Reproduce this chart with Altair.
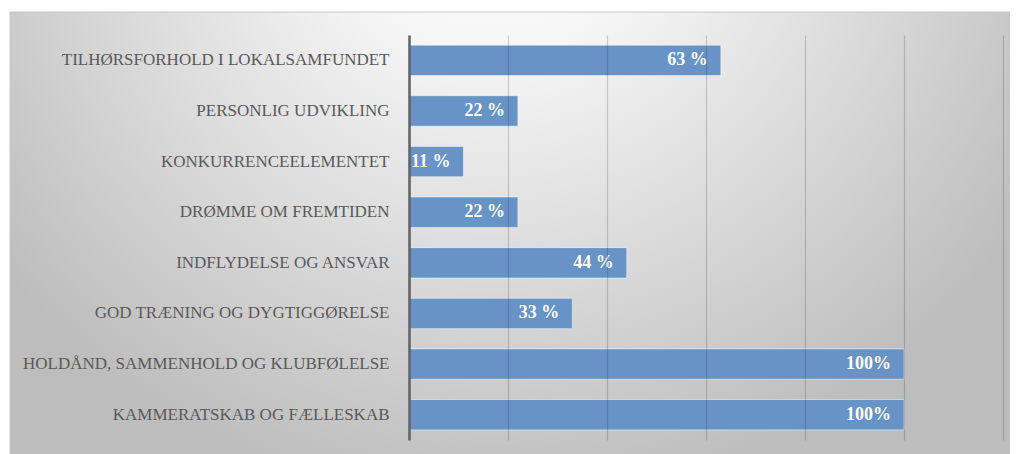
import altair as alt
import pandas as pd

categories = [
    "TILHØRSFORHOLD I LOKALSAMFUNDET",
    "PERSONLIG UDVIKLING",
    "KONKURRENCEELEMENTET",
    "DRØMME OM FREMTIDEN",
    "INDFLYDELSE OG ANSVAR",
    "GOD TRÆNING OG DYGTIGGØRELSE",
    "HOLDÅND, SAMMENHOLD OG KLUBFØLELSE",
    "KAMMERATSKAB OG FÆLLESKAB",
]
values = [0.63, 0.22, 0.11, 0.22, 0.44, 0.33, 1.00, 1.00]
value_labels = ["63 %", "22 %", "11 %", "22 %", "44 %", "33 %", "100%", "100%"]
grid_ticks = [0, 0.2, 0.4, 0.6, 0.8, 1.0, 1.2]

df = pd.DataFrame({"cat": categories, "val": values, "lab": value_labels})

W, H = 594, 405
PAD_L, PAD_T = 401, 27
PAD_R = 1002 - PAD_L - W
PAD_B = 446 - PAD_T - H

SERIF = "Liberation Serif"

bg = alt.Chart(pd.DataFrame({"a": [0]})).mark_rect(
    color=alt.Gradient(
        gradient="radial",
        x1=0.48, y1=0.15, r1=0.0,
        x2=0.48, y2=0.15, r2=0.62,
        stops=[
            alt.GradientStop(offset=0.0, color="#ffffff"),
            alt.GradientStop(offset=0.25, color="#f7f7f7"),
            alt.GradientStop(offset=1.0, color="#bdbdbd"),
        ],
    ),
    stroke="#c8c8c8",
    strokeWidth=1,
).encode(
    x=alt.value(10 - 409),
    x2=alt.value(1018 - 409 + 4),
    y=alt.value(12 - 35),
    y2=alt.value(454 - 35 + 6),
)

ycat = alt.Y(
    "cat:N",
    sort=categories,
    scale=alt.Scale(paddingInner=0.4, paddingOuter=0.2),
    axis=alt.Axis(
        title=None,
        labelFont=SERIF,
        labelFontSize=17,
        labelColor="#595959",
        labelPadding=20,
        labelLimit=400,
        ticks=False,
        grid=False,
        domainColor="#616161",
        domainWidth=2.5,
        zindex=1,
    ),
)

xval = alt.X(
    "val:Q",
    scale=alt.Scale(domain=[0, 1.2], nice=False, zero=True),
    axis=alt.Axis(
        values=grid_ticks,
        labels=False,
        title=None,
        domain=False,
        ticks=False,
        grid=True,
        gridColor="#000000",
        gridOpacity=0.16,
        gridWidth=1.2,
        zindex=1,
    ),
)

bars = alt.Chart(df).mark_bar(
    color="#6793c6",
    stroke="#ffffff",
    strokeOpacity=0.5,
    strokeWidth=1,
).encode(x=xval, y=ycat)

text = alt.Chart(df).mark_text(
    align="right",
    baseline="middle",
    dx=-13,
    font=SERIF,
    fontWeight="bold",
    fontSize=18,
    color="#ffffff",
).encode(x="val:Q", y=alt.Y("cat:N", sort=categories), text="lab:N")

chart = alt.layer(bg, bars, text).properties(
    width=W,
    height=H,
    autosize=alt.AutoSizeParams(type="none"),
    padding={"left": PAD_L, "top": PAD_T, "right": PAD_R, "bottom": PAD_B},
    background="#ffffff",
).configure_view(stroke=None)

chart.save("out.html", embed_options={"renderer": "svg", "actions": False})
